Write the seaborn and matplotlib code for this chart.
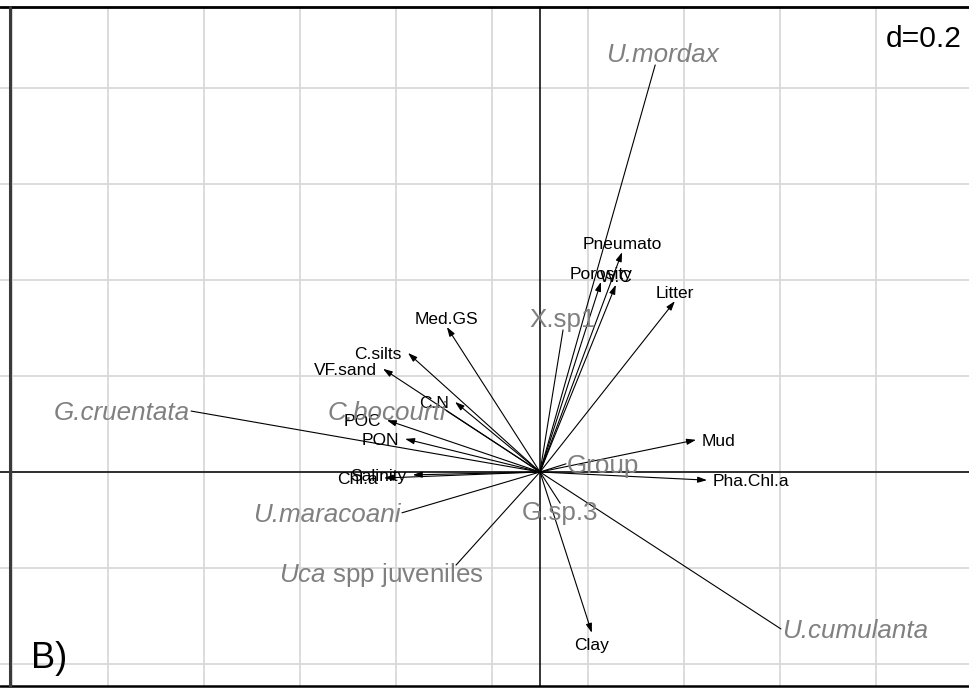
import numpy as np
import pandas as pd
import matplotlib
matplotlib.use("Agg")
import matplotlib.pyplot as plt
import seaborn as sns

# Environmental variables (arrows) – coordinates on the two ordination axes
env_names = ["Pneumato", "Porosity", "W.C", "Litter", "Mud", "Pha.Chl.a", "Clay",
             "Med.GS", "C.silts", "VF.sand", "C.N", "POC", "PON", "Salinity", "Chl.a"]
env_x = [0.171, 0.127, 0.158, 0.281, 0.325, 0.348, 0.108,
         -0.194, -0.275, -0.327, -0.177, -0.319, -0.281, -0.265, -0.325]
env_y = [0.458, 0.396, 0.390, 0.356, 0.067, -0.017, -0.335,
         0.302, 0.248, 0.215, 0.146, 0.108, 0.069, -0.006, -0.0125]

# Species / groups (segments)
sp_names = ["U.mordax", "X.sp1", "C.bocourti", "G.cruentata", "Group", "G.sp.3",
            "U.maracoani", "Uca spp juveniles", "U.cumulanta"]
sp_labels = ["U.mordax", "X.sp1", "C.bocourti", "G.cruentata", "Group", "G.sp.3",
             "U.maracoani", r"$\mathit{Uca}$ spp juveniles", "U.cumulanta"]
sp_italic = [True, False, True, True, False, False, True, False, True]
sp_x = [0.240, 0.048, -0.194, -0.727, 0.054, 0.042, -0.2875, -0.175, 0.502]
sp_y = [0.848, 0.296, 0.127, 0.127, 0.017, -0.065, -0.085, -0.194, -0.327]

grid_d = 0.2
x_grid = [-1.1, -0.9, -0.7, -0.5, -0.3, -0.1, 0.1, 0.3, 0.5, 0.7]
y_grid = [-0.4, -0.2, 0.0, 0.2, 0.4, 0.6, 0.8]

sns.set_theme(style="white")
plt.rcParams["font.family"] = ["Liberation Sans", "DejaVu Sans"]
plt.rcParams["mathtext.fontset"] = "custom"
plt.rcParams["mathtext.rm"] = "Liberation Sans"
plt.rcParams["mathtext.it"] = "Liberation Sans:italic"

W, H = 970, 691
fig = plt.figure(figsize=(W / 100, H / 100), dpi=100)
ax = fig.add_axes([0, 0, 1, 1])
scale = 480.0  # pixels per unit
ox, oy = 540, 472
XLIM = (-ox / scale, (W - ox) / scale)
YLIM = (-(H - oy) / scale, oy / scale)


def px_x(p):
    return (p - ox) / scale


def px_y(p):
    return (oy - p) / scale


top, bottom, left = px_y(7), px_y(686), px_x(10)
xmin, xmax = XLIM

# grid
for gx in x_grid:
    ax.plot([gx, gx], [bottom, top], color="#d6d6d6", lw=1.2, zorder=1)
for gy in y_grid:
    ax.plot([xmin, xmax], [gy, gy], color="#d6d6d6", lw=1.2, zorder=1)

# axes through the origin
ax.plot([xmin, xmax], [0, 0], color="black", lw=1.1, zorder=2)
ax.plot([0, 0], [bottom, top], color="black", lw=1.1, zorder=2)

# frame
ax.plot([xmin, xmax], [top, top], color="black", lw=2.0, zorder=6)
ax.plot([xmin, xmax], [bottom, bottom], color="black", lw=1.8, zorder=6)
ax.plot([left, left], [bottom, top], color="#3a3a3a", lw=2.2, zorder=6)

# species segments drawn with seaborn
seg = pd.DataFrame({
    "name": np.repeat(sp_names, 2),
    "x": np.ravel([[0.0, v] for v in sp_x]),
    "y": np.ravel([[0.0, v] for v in sp_y]),
})
sns.lineplot(data=seg, x="x", y="y", units="name", estimator=None, sort=False,
             color="black", lw=0.8, legend=False, ax=ax, zorder=3)
ax.set_xlim(*XLIM)
ax.set_ylim(*YLIM)
ax.axis("off")


def place(dx, dy, pad, above, below, cap):
    """Label placement outside the vector end (left/right/above/below)."""
    if dx > dy and dx > -dy:
        return "left", (pad, -cap / 2)
    if dx > dy and dx <= -dy:
        return "center", (0, -below - cap / 2)
    if dx <= dy and dx <= -dy:
        return "right", (-pad, -cap / 2)
    return "center", (0, above - cap / 2)


# arrows for environmental variables
env_fs = 12.5
env_cap = 0.716 * env_fs / 0.72
for name, x, y in zip(env_names, env_x, env_y):
    ax.annotate("", xy=(x, y), xytext=(0, 0),
                arrowprops=dict(arrowstyle="-|>,head_length=0.55,head_width=0.18",
                                color="black", lw=0.8, shrinkA=0, shrinkB=0,
                                mutation_scale=10), zorder=4)
    ha, off = place(x, y, 6, 9.5, 10.5, env_cap)
    ax.annotate(name, xy=(x, y), xytext=off, textcoords="offset pixels",
                ha=ha, va="baseline", fontsize=env_fs, color="black", zorder=5)

# species labels
sp_fs = 18.7
sp_cap = 0.716 * sp_fs / 0.72
nudge = {"U.mordax": (7, 0), "Uca spp juveniles": (-75, 0)}
for name, lab, it, x, y in zip(sp_names, sp_labels, sp_italic, sp_x, sp_y):
    ha, off = place(x, y, 1, 12, 8, sp_cap)
    n = nudge.get(name, (0, 0))
    off = (off[0] + n[0], off[1] + n[1])
    ax.annotate(lab, xy=(x, y), xytext=off, textcoords="offset pixels",
                ha=ha, va="baseline", fontsize=sp_fs, color="#808080",
                fontstyle="italic" if it else "normal", zorder=5)

fig.text(962 / W, 1 - 47 / H, f"d={grid_d}", ha="right", va="baseline",
         fontsize=21.6, color="black")
fig.text(31 / W, 1 - 668 / H, "B)", ha="left", va="baseline",
         fontsize=26, color="black")

fig.savefig("out.png", dpi=100, facecolor="white")
